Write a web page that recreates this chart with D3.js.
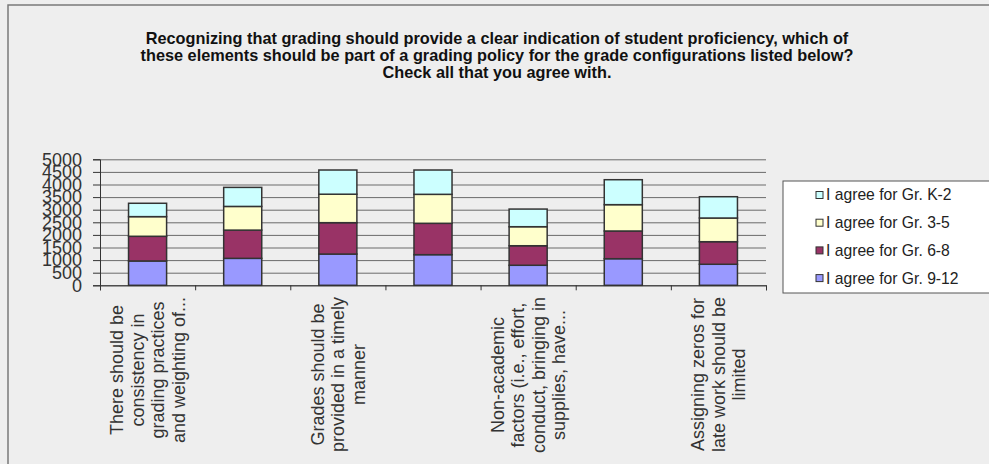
<!DOCTYPE html>
<html><head><meta charset="utf-8">
<script src="https://cdn.jsdelivr.net/npm/d3@7"></script>
<style>
html,body{margin:0;padding:0;background:#eeeeee;}
svg{display:block;font-family:"Liberation Sans",Arial,sans-serif;}
</style></head>
<body>
<svg id="c" width="989" height="464"></svg>
<script>
const titleLines = [
  "Recognizing that grading should provide a clear indication of student proficiency, which of",
  "these elements should be part of a grading policy for the grade configurations listed below?",
  "Check all that you agree with."
];
const categories = [
  ["There should be","consistency in","grading practices","and weighting of..."],
  [],
  ["Grades should be","provided in a timely","manner"],
  [],
  ["Non-academic","factors (i.e., effort,","conduct, bringing in","supplies, have..."],
  [],
  ["Assigning zeros for","late work should be","limited"]
];
const seriesNames = ["I agree for Gr. 9-12","I agree for Gr. 6-8","I agree for Gr. 3-5","I agree for Gr. K-2"];
const gr9_12 = [965, 1070, 1240, 1215, 795, 1055, 835];
const gr6_8  = [980, 1120, 1245, 1245, 775, 1100, 895];
const gr3_5  = [780, 940, 1130, 1150, 755, 1045, 940];
const grK_2  = [530, 755, 960, 965, 700, 990, 845];
const yTicks = [0,500,1000,1500,2000,2500,3000,3500,4000,4500,5000];
const colors = ["#9999ff","#993366","#ffffcc","#ccffff"];

const svg = d3.select("#c");
// outer border
svg.append("path").attr("d","M8,464 V5 H989").attr("fill","none").attr("stroke","#7a7a7a").attr("stroke-width",1.5);

// title
svg.append("g").selectAll("text").data(titleLines).join("text")
  .attr("x",497).attr("y",(d,i)=>44+i*17)
  .attr("text-anchor","middle").attr("font-size",16.3).attr("font-weight","bold").attr("fill","#111")
  .text(d=>d);

const x0 = 100, x1 = 766, yTop = 159.3, yBot = 285.3;
const x = d3.scaleBand().domain(d3.range(categories.length)).range([x0,x1]).paddingInner(0.6).paddingOuter(0.3);
const xb = d3.scaleBand().domain(d3.range(categories.length)).range([x0,x1]);
const y = d3.scaleLinear().domain([0,5000]).range([yBot,yTop]);

// gridlines
svg.append("g").attr("transform",`translate(${x0},0)`)
  .call(d3.axisLeft(y).tickValues(yTicks).tickSize(-(x1-x0)).tickFormat(""))
  .call(g=>g.select(".domain").remove())
  .call(g=>g.selectAll("line").attr("stroke","#6a6a6a").attr("stroke-width",1));
// y ticks outward
svg.append("g").attr("transform",`translate(${x0},0)`)
  .call(d3.axisLeft(y).tickValues(yTicks).tickSize(7).tickPadding(11).tickFormat(d3.format("d")))
  .call(g=>g.select(".domain").attr("stroke","#333"))
  .call(g=>g.selectAll("line").attr("stroke","#333"))
  .call(g=>g.selectAll("text").attr("font-size",18).attr("fill","#333").attr("font-family","Liberation Sans, Arial, sans-serif"));

// stacked bars
const rows = categories.map((c,i)=>({i, s0:gr9_12[i], s1:gr6_8[i], s2:gr3_5[i], s3:grK_2[i]}));
const stack = d3.stack().keys(["s0","s1","s2","s3"])(rows);
svg.append("g").selectAll("g").data(stack).join("g")
  .attr("fill",(d,k)=>colors[k])
  .selectAll("rect").data(d=>d).join("rect")
  .attr("x",d=>x(d.data.i)).attr("width",x.bandwidth())
  .attr("y",d=>y(d[1])).attr("height",d=>y(d[0])-y(d[1]))
  .attr("stroke","#333").attr("stroke-width",1.5);

// x axis
svg.append("g").attr("transform",`translate(0,${yBot})`)
  .call(d3.axisBottom(d3.scaleLinear().domain([0,categories.length]).range([x0,x1])).tickValues(d3.range(categories.length+1)).tickSize(5).tickFormat(""))
  .call(g=>g.select(".domain").attr("stroke","#333"))
  .call(g=>g.selectAll("line").attr("stroke","#333"));

// category labels
const lg = svg.append("g").attr("font-size",18).attr("fill","#333");
categories.forEach((lines,i)=>{
  if(!lines.length) return;
  const cx = xb(i)+xb.bandwidth()/2;
  const g = lg.append("g");
  const ts = lines.map((t,j)=>g.append("text").attr("text-anchor","middle").attr("dy","0.35em").text(t));
  const maxW = d3.max(ts, t=>t.node().getComputedTextLength());
  const cy = 297 + maxW/2;
  ts.forEach((t,j)=>{
    const lx = cx + (j-(lines.length-1)/2)*20.5;
    t.attr("transform",`translate(${lx},${cy}) rotate(-90)`);
  });
});

// legend
const leg = svg.append("g");
leg.append("rect").attr("x",783).attr("y",181).attr("width",230).attr("height",112).attr("fill","#fff").attr("stroke","#555").attr("stroke-width",1);
const legOrder = [3,2,1,0];
legOrder.forEach((k,r)=>{
  const cy = 195 + r*27.7;
  leg.append("rect").attr("x",816).attr("y",cy-3.5).attr("width",7).attr("height",7).attr("fill",colors[k]).attr("stroke","#333").attr("stroke-width",1);
  leg.append("text").attr("x",826).attr("y",cy).attr("dy","0.35em").attr("font-size",15.7).attr("fill","#222").text(seriesNames[k]);
});
</script>
</body></html>
